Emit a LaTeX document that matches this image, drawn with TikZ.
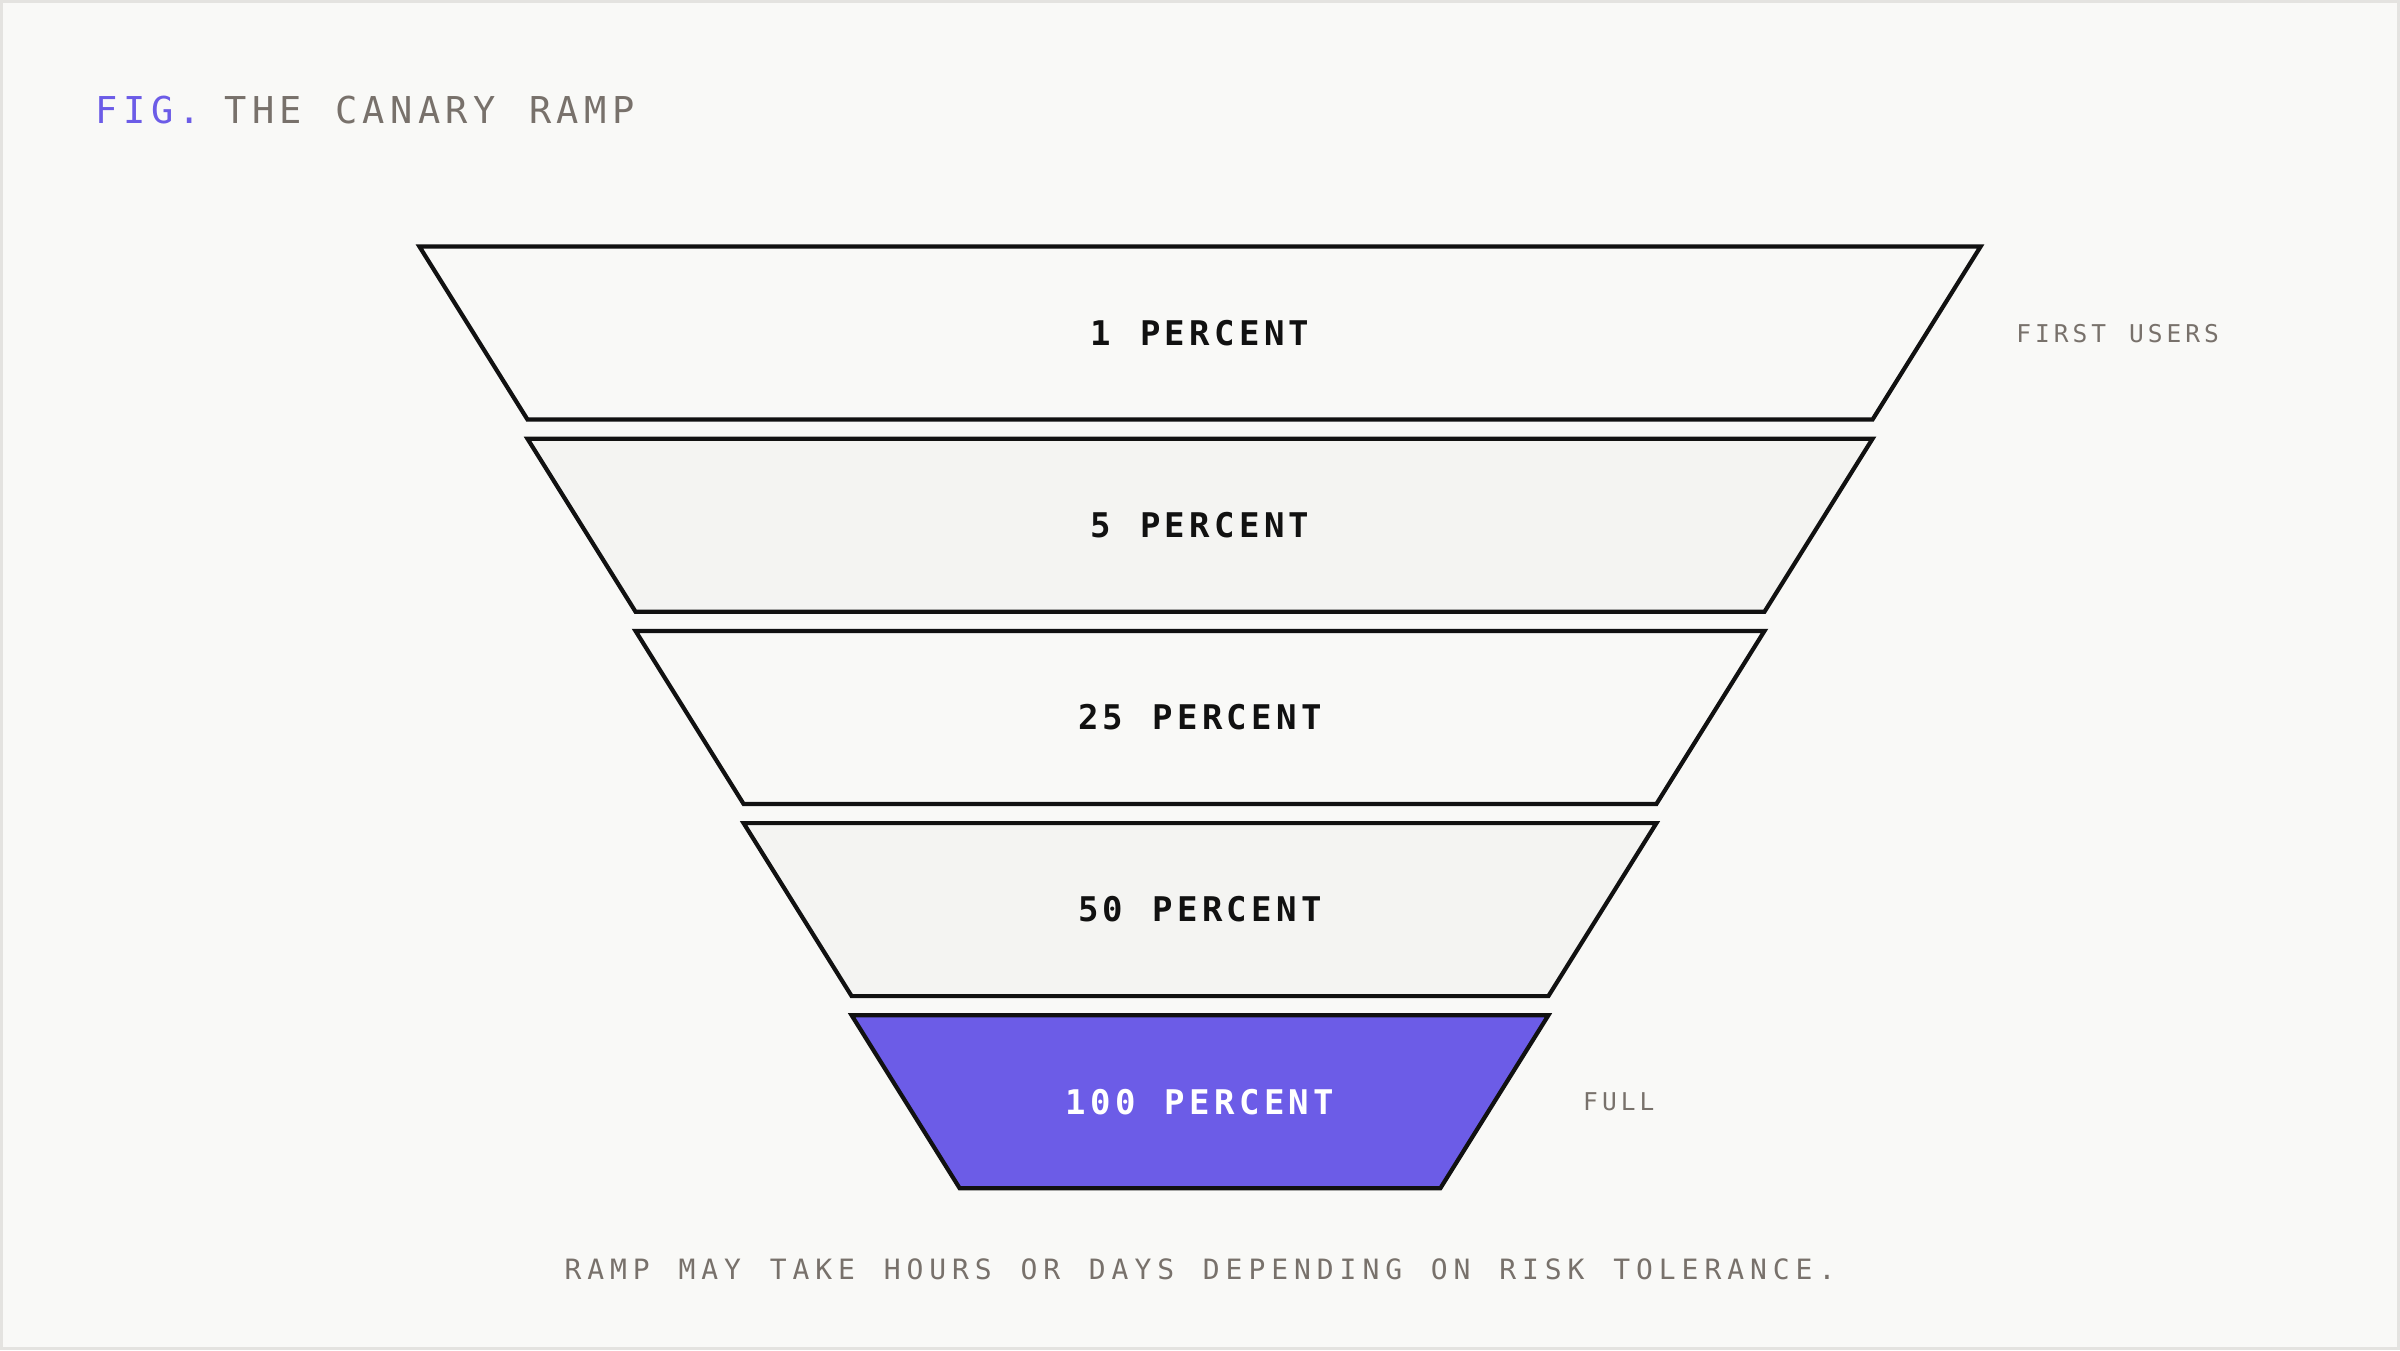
\documentclass[tikz,border=0pt]{standalone}
\usepackage{fontspec}
\newfontfamily\mono{DejaVu Sans Mono}
\definecolor{bgc}{HTML}{F9F9F7}
\definecolor{framec}{HTML}{E4E3E0}
\definecolor{alt}{HTML}{F4F4F2}
\definecolor{accent}{HTML}{6C5CE7}
\definecolor{muted}{HTML}{78716B}
\definecolor{ink}{HTML}{111111}
\ExplSyntaxOn
\NewDocumentCommand\spaced{mm}{\tl_map_inline:nn{#2}{\makebox[#1pt][c]{##1}}}
\NewDocumentCommand\spacedvar{mm}{\tl_map_inline:Nn #2 {\makebox[#1pt][c]{##1}}}
\ExplSyntaxOff
\tikzset{
  stage/.style={draw=ink, line width=4.2pt, line join=miter},
  stagelabel/.style={inner sep=0pt, font=\mono\bfseries\fontsize{34}{34}\selectfont},
  sidenote/.style={inner sep=0pt, text=muted, font=\mono\fontsize{24.5}{24.5}\selectfont},
}
\begin{document}
\begin{tikzpicture}[x=1pt,y=-1pt]
\fill[framec] (0,0) rectangle (2400,1350);
\fill[bgc] (3,3) rectangle (2397,1347);
\useasboundingbox (0,0) rectangle (2400,1350);
\foreach \i/\fc/\lab/\tc in {0/bgc/1~PERCENT/ink,1/alt/5~PERCENT/ink,2/bgc/25~PERCENT/ink,3/alt/50~PERCENT/ink,4/accent/100~PERCENT/white}{
  \pgfmathsetmacro\ty{246.5+192.2*\i}
  \pgfmathsetmacro\by{\ty+173}
  \pgfmathsetmacro\th{780.6-108.06*\i}
  \pgfmathsetmacro\bh{780.6-108.06*(\i+1)}
  \draw[stage, fill=\fc] (1200-\th,\ty) -- (1200+\th,\ty) -- (1200+\bh,\by) -- (1200-\bh,\by) -- cycle;
  \node[stagelabel, text=\tc] (lab\i) at (1200,\ty+86.5) {\spacedvar{24.8}{\lab}};
}
\node[inner sep=0pt, anchor=west, font=\mono\fontsize{37}{37}\selectfont] (title) at (93,110)
  {\textcolor{accent}{\spaced{27.7}{FIG.}}\hspace{-10pt}\textcolor{muted}{\spaced{27.7}{~THE~CANARY~RAMP}}};
\node[sidenote, anchor=west] (first) at (2014,333.5) {\spaced{18.8}{FIRST~USERS}};
\node[sidenote, anchor=west] (full) at (1581,1101.5) {\spaced{18.8}{FULL}};
\node[inner sep=0pt, text=muted, font=\mono\fontsize{28}{28}\selectfont] (caption) at (1200,1269)
  {\spaced{22.8}{RAMP~MAY~TAKE~HOURS~OR~DAYS~DEPENDING~ON~RISK~TOLERANCE.}};
\end{tikzpicture}
\end{document}
